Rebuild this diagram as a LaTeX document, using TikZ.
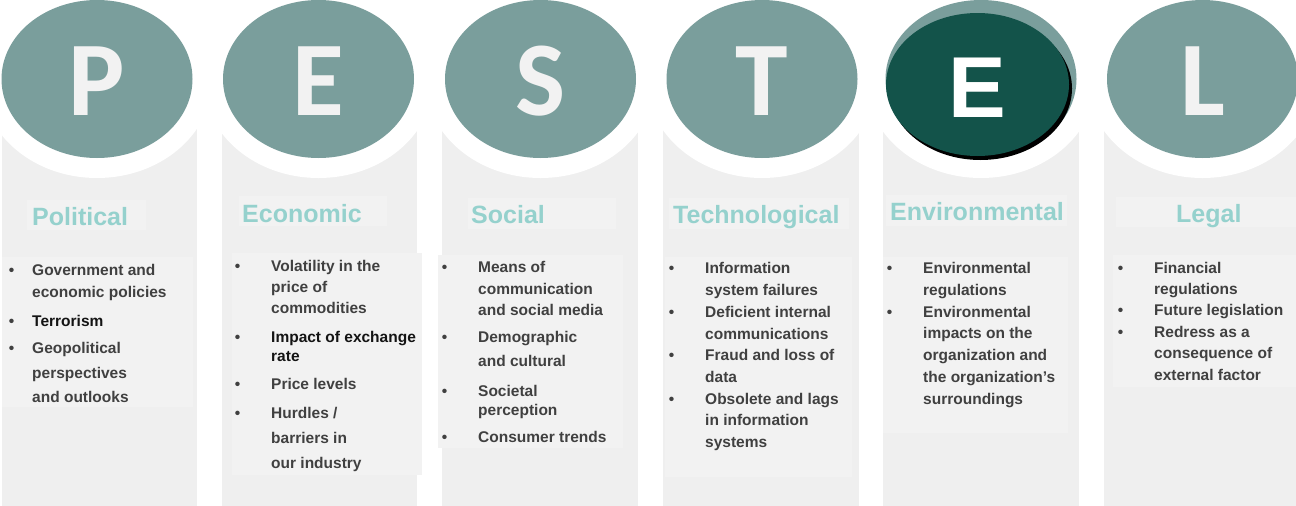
\documentclass[tikz,border=0pt]{standalone}
\usepackage{fontspec}
\setmainfont{Liberation Sans}
\newfontfamily\capfont{Carlito}
\usetikzlibrary{shapes.geometric,shadows,positioning}

\definecolor{pestteal}{HTML}{7A9E9C}
\definecolor{pestdark}{HTML}{13534A}
\definecolor{pestlight}{HTML}{95D1CD}
\definecolor{pestgray}{HTML}{EFEFEF}
\definecolor{pesttint}{HTML}{F2F2F2}
\definecolor{pesttext}{HTML}{404040}
\definecolor{pestcap}{HTML}{F2F2F2}

% bullet hung in front of a line
\newcommand\pestdot[1][31pt]{\leavevmode\llap{\textbullet\hspace{#1}}}
\newcommand\pestkey[1]{\textcolor{black!92}{#1}}

\tikzset{
  column/.style={fill=pestgray},
  tint/.style={fill=pesttint},
  oval/.style={ellipse, fill=pestteal, inner sep=0pt, outer sep=0pt,
    minimum width=191pt, minimum height=158pt,
    preaction={draw=white, line width=40pt}},
  pick oval/.style={ellipse, fill=pestdark, inner sep=0pt, outer sep=0pt,
    minimum width=183pt, minimum height=143pt,
    drop shadow={shadow xshift=3pt, shadow yshift=-4pt, fill=black, opacity=1}},
  letter/.style={anchor=base, inner sep=0pt, text=pestcap,
    font=\capfont\bfseries\fontsize{106}{106}\selectfont},
  pick letter/.style={anchor=base, inner sep=0pt, text=white,
    font=\bfseries\fontsize{86.5}{86.5}\selectfont},
  heading/.style={anchor=base west, inner sep=0pt, text=pestlight,
    font=\bfseries\fontsize{25}{28}\selectfont},
  % lists sit on the baseline of their last line
  facts/.style={anchor=base west, align=left, inner sep=0pt, text=pesttext,
    font=\bfseries\fontsize{15.5}{21.7}\selectfont}
}

\begin{document}
\begin{tikzpicture}[x=1pt,y=-1pt]
  \useasboundingbox (0,0) rectangle (1296,506);

  % column panels
  \foreach \xa/\xb in {2/197,222/417,442/638,663/859,883/1079,1104/1296}
    \fill[column] (\xa,127) rectangle (\xb,506);
  % lighter strips behind headings and lists
  \foreach \xa/\ya/\xb/\yb in {27/200/146/230, 239/196/387/226, 468/198/616/229,
      669/198/849/229, 886/195/1067/226, 1116/197/1296/227,
      2/257/193/407, 232/253/422/475, 438/255/623/448,
      665/257/852/477, 883/257/1068/433, 1113/255/1296/387}
    \fill[tint] (\xa,\ya) rectangle (\xb,\yb);

  % letter ovals
  \node[oval] (P oval)  at (97,79)     {};
  \node[oval] (E oval)  at (318.5,79)  {};
  \node[oval] (S oval)  at (540.5,79)  {};
  \node[oval] (T oval)  at (762,79)    {};
  \node[oval] (E2 oval) at (981,79)    {};
  \node[oval] (L oval)  at (1202.5,79) {};
  \node[pick oval] (E2 top) at (977.5,84.5) {};

  \node[letter] (P)  at ([yshift=-36pt]P oval.center) {P};
  \node[letter] (E)  at ([yshift=-36pt]E oval.center) {E};
  \node[letter] (S)  at ([yshift=-36pt]S oval.center) {S};
  \node[letter] (T)  at ([yshift=-36pt]T oval.center) {T};
  \node[pick letter] (E2) at ([yshift=-32.5pt]E2 top.center) {E};
  \node[letter] (L)  at ([yshift=-36pt]L oval.center) {L};

  % headings
  \node[heading] (pol head) at (32,225)   {Political};
  \node[heading] (eco head) at (242,222)  {Economic};
  \node[heading] (soc head) at (471,223)  {Social};
  \node[heading] (tec head) at (673,223)  {Technological};
  \node[heading] (env head) at (890,220)  {Environmental};
  \node[heading] (leg head) at (1176,222) {Legal};

  % factor lists
  \node[facts] (pol list) at (32,402) {\pestdot[18pt]Government and\\economic policies\\[7.3pt]%
    \pestdot[18pt]\pestkey{Terrorism}\\[5.3pt]\pestdot[18pt]Geopolitical\\[3.3pt]perspectives\\[2.3pt]and outlooks};
  \node[facts] (eco list) at (271,468) {\pestdot Volatility in the\\[-0.7pt]price of\\[-0.7pt]commodities\\[7.3pt]%
    \pestdot\pestkey{Impact of exchange}\\[-2.7pt]\pestkey{rate}\\[6.3pt]\pestdot Price levels\\[7.3pt]%
    \pestdot Hurdles /\\[3.3pt]barriers in\\[3.3pt]our industry};
  \node[facts] (soc list) at (478,442) {\pestdot Means of\\[0.3pt]communication\\[-0.7pt]and social media\\[5.3pt]%
    \pestdot Demographic\\[2.3pt]and cultural\\[8.3pt]\pestdot Societal\\[-2.7pt]perception\\[5.3pt]%
    \pestdot Consumer trends};
  \node[facts] (tec list) at (705,447.5) {\pestdot Information\\system failures\\\pestdot Deficient internal\\%
    communications\\\pestdot Fraud and loss of\\data\\\pestdot Obsolete and lags\\in information\\systems};
  \node[facts] (env list) at (923,404) {\pestdot Environmental\\regulations\\\pestdot Environmental\\%
    impacts on the\\organization and\\the organization’s\\surroundings};
  \node[facts] (leg list) at (1154,380) {\pestdot Financial\\[-0.3pt]regulations\\[-0.3pt]\pestdot Future legislation\\[-0.3pt]%
    \pestdot Redress as a\\[-0.3pt]consequence of\\[-0.3pt]external factor};
\end{tikzpicture}
\end{document}
